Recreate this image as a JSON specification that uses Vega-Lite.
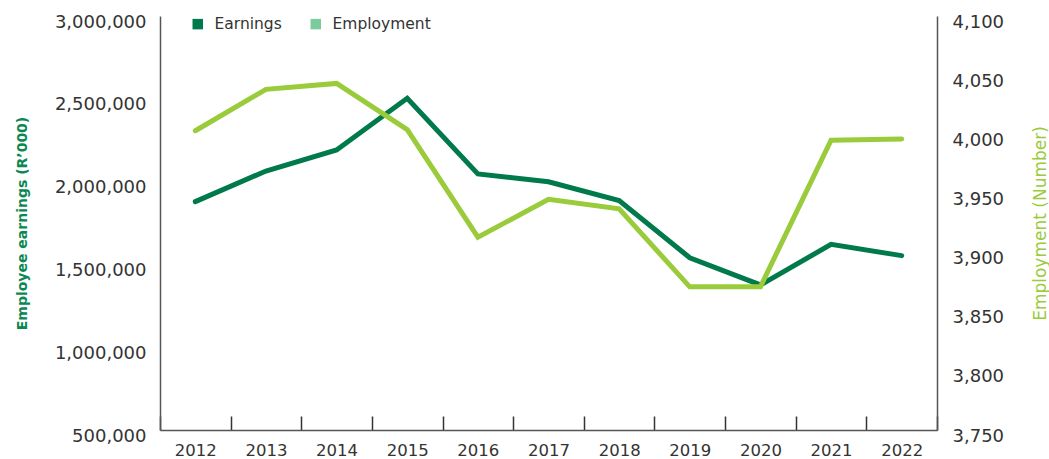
{
  "$schema": "https://vega.github.io/schema/vega-lite/v6.json",
  "width": 777,
  "height": 414,
  "autosize": {"type": "none"},
  "padding": {"left": 160, "top": 16, "right": 112, "bottom": 29},
  "background": "white",
  "config": {
    "view": {"stroke": null},
    "font": "DejaVu Sans",
    "axis": {"grid": false, "labelFont": "DejaVu Sans", "titleFont": "DejaVu Sans", "labelColor": "#333333", "domainColor": "#555555", "domainWidth": 1.5}
  },
  "data": {
    "values": [
      {"year": "2012", "earnings": 1879000, "employment": 4003},
      {"year": "2013", "earnings": 2064000, "employment": 4038},
      {"year": "2014", "earnings": 2191000, "employment": 4043},
      {"year": "2015", "earnings": 2503000, "employment": 4004},
      {"year": "2016", "earnings": 2046000, "employment": 3913},
      {"year": "2017", "earnings": 1999000, "employment": 3945},
      {"year": "2018", "earnings": 1885000, "employment": 3937},
      {"year": "2019", "earnings": 1540000, "employment": 3871},
      {"year": "2020", "earnings": 1376000, "employment": 3871},
      {"year": "2021", "earnings": 1621000, "employment": 3995},
      {"year": "2022", "earnings": 1553000, "employment": 3996}
    ]
  },
  "encoding": {
    "x": {
      "field": "year",
      "type": "ordinal",
      "scale": {"type": "band", "paddingInner": 0, "paddingOuter": 0},
      "axis": {
        "title": null,
        "labelAngle": 0,
        "labelFontSize": 16.5,
        "labelPadding": 26,
        "ticks": true,
        "tickBand": "extent",
        "tickSize": -14,
        "tickColor": "#333333",
        "tickWidth": 1.5
      }
    }
  },
  "layer": [
    {
      "mark": {"type": "line", "strokeWidth": 5, "strokeCap": "round", "strokeJoin": "miter"},
      "encoding": {
        "y": {
          "field": "earnings",
          "type": "quantitative",
          "scale": {"domain": [500000, 3000000], "nice": false, "zero": false},
          "axis": {
            "orient": "left",
            "values": [500000, 1000000, 1500000, 2000000, 2500000, 3000000],
            "format": ",.0f",
            "ticks": false,
            "labelPadding": 14,
            "labelFontSize": 18,
            "labelOffset": 6,
            "title": "Employee earnings (R’000)",
            "titleColor": "#0B8752",
            "titleFontSize": 14,
            "titleFontWeight": "bold",
            "titleAngle": -90,
            "titleX": -138,
            "titleY": 207,
            "titleAlign": "center",
            "titleBaseline": "middle"
          }
        },
        "color": {
          "datum": "Earnings",
          "scale": {"domain": ["Earnings", "Employment"], "range": ["#007A4B", "#9ACB3B"]},
          "legend": {
            "title": null,
            "orient": "none",
            "legendX": 30,
            "legendY": 0,
            "direction": "horizontal",
            "symbolType": "square",
            "symbolSize": 110,
            "symbolStrokeWidth": 0,
            "labelFontSize": 15.5,
            "labelColor": "#333333",
            "labelOffset": 9,
            "columnPadding": 26,
            "encode": {
              "symbols": {
                "update": {
                  "fill": {"signal": "datum.value === 'Earnings' ? '#007A4B' : '#7CCB9C'"},
                  "opacity": {"value": 1}
                }
              }
            }
          }
        }
      }
    },
    {
      "mark": {"type": "line", "strokeWidth": 5, "strokeCap": "round", "strokeJoin": "miter"},
      "encoding": {
        "y": {
          "field": "employment",
          "type": "quantitative",
          "scale": {"domain": [3750, 4100], "nice": false, "zero": false},
          "axis": {
            "orient": "right",
            "values": [3750, 3800, 3850, 3900, 3950, 4000, 4050, 4100],
            "format": ",.0f",
            "ticks": false,
            "labelPadding": 15,
            "labelFontSize": 18,
            "labelOffset": 6,
            "title": "Employment (Number)",
            "titleColor": "#9ACB3B",
            "titleFontSize": 17,
            "titleFontWeight": "normal",
            "titleAngle": -90,
            "titleX": 103,
            "titleY": 207,
            "titleAlign": "center",
            "titleBaseline": "middle"
          }
        },
        "color": {"datum": "Employment"}
      }
    }
  ],
  "resolve": {"scale": {"y": "independent"}}
}
